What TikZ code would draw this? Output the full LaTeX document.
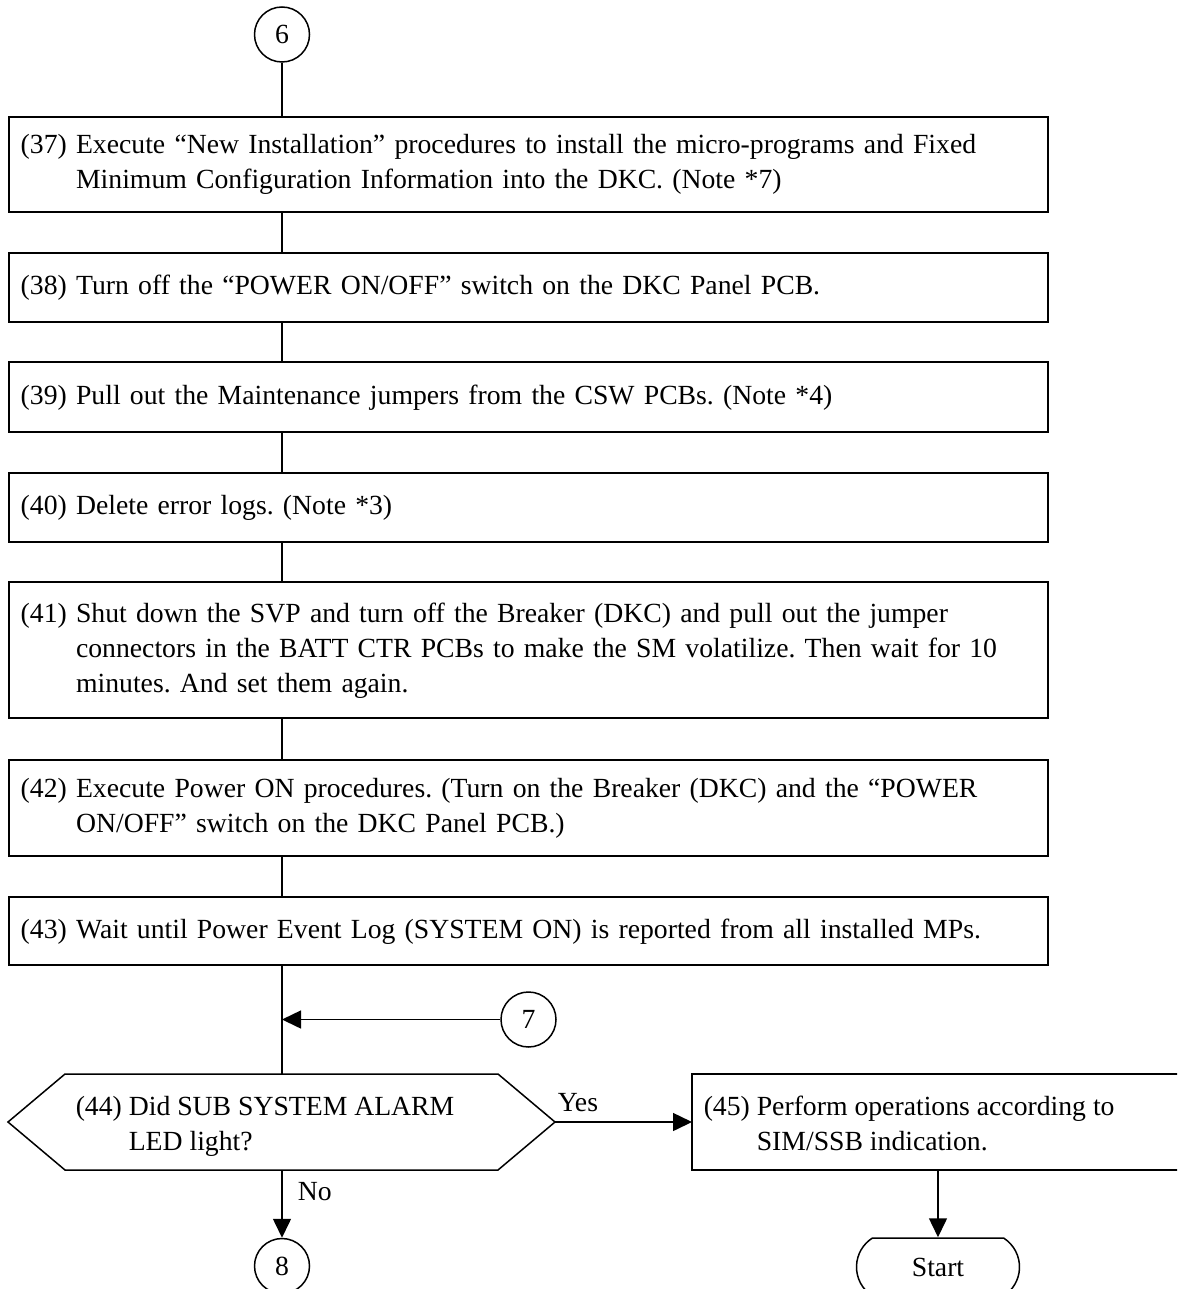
\documentclass[tikz,border=0pt]{standalone}
\usepackage{fontspec}
\setmainfont{Liberation Serif}
\usetikzlibrary{arrows.meta,shapes.misc}
\newcommand\steptext[2]{\begin{tabular}{@{}l@{\ }l@{}}#1&#2\end{tabular}}
\begin{document}
\frenchspacing
\begin{tikzpicture}[x=1pt,y=-1pt,
  font=\fontsize{27.7}{35}\selectfont,
  line width=1.5pt,
  stepbox/.style={draw, rectangle, text width=1015.6pt, align=left,
    inner xsep=11.7pt, inner ysep=0pt},
  conn/.style={draw, circle, minimum size=55pt, inner sep=0pt},
  arr/.style={-{Triangle[length=19pt,width=18pt]}},
  lbl/.style={inner sep=0pt, anchor=base west}]
\useasboundingbox (0,0) rectangle (1177,1289);
\clip (0,0) rectangle (1177,1289);

% connectors (circles)
\node[conn] (c6) at (282,34.5) {6};
\node[conn] (c7) at (528.5,1019.5) {7};
\node[conn] (c8) at (282,1266) {8};

% process boxes
\node[stepbox, minimum height=95pt] (b37) at (528.5,164.5)
  {\steptext{(37)}{Execute “New Installation” procedures to install the micro-programs and Fixed\\&Minimum Configuration Information into the DKC. (Note *7)}};
\node[stepbox, minimum height=69pt] (b38) at (528.5,287.5)
  {\steptext{(38)}{Turn off the “POWER ON/OFF” switch on the DKC Panel PCB.}};
\node[stepbox, minimum height=70pt] (b39) at (528.5,397)
  {\steptext{(39)}{Pull out the Maintenance jumpers from the CSW PCBs. (Note *4)}};
\node[stepbox, minimum height=69pt] (b40) at (528.5,507.5)
  {\steptext{(40)}{Delete error logs. (Note *3)}};
\node[stepbox, minimum height=136pt] (b41) at (528.5,650)
  {\steptext{(41)}{Shut down the SVP and turn off the Breaker (DKC) and pull out the jumper\\&connectors in the BATT CTR PCBs to make the SM volatilize. Then wait for 10\\&minutes. And set them again.}};
\node[stepbox, minimum height=96pt] (b42) at (528.5,808)
  {\steptext{(42)}{Execute Power ON procedures. (Turn on the Breaker (DKC) and the “POWER\\&ON/OFF” switch on the DKC Panel PCB.)}};
\node[stepbox, minimum height=68pt] (b43) at (528.5,931)
  {\steptext{(43)}{Wait until Power Event Log (SYSTEM ON) is reported from all installed MPs.}};

% decision (hexagon)
\coordinate (hexW) at (8,1122);
\coordinate (hexNW) at (65,1074);
\coordinate (hexNE) at (498,1074);
\coordinate (hexE) at (555,1122);
\coordinate (hexSE) at (498,1170);
\coordinate (hexSW) at (65,1170);
\coordinate (hexN) at (282,1074);
\coordinate (hexS) at (282,1170);
\draw (hexW) -- (hexNW) -- (hexNE) -- (hexE) -- (hexSE) -- (hexSW) -- cycle;
\node[inner sep=0pt, anchor=west] (t44) at (75,1126)
  {\steptext{(44)}{Did SUB SYSTEM ALARM\\&LED light?}};

% box 45
\node[draw, rectangle, minimum width=520pt, minimum height=96pt, inner sep=0pt,
  outer sep=0pt, anchor=north west] (b45) at (692,1074) {};
\node[inner sep=0pt, anchor=west] (t45) at (703,1126)
  {\steptext{(45)}{Perform operations according to\\&SIM/SSB indication.}};

% terminal
\node[draw, rounded rectangle, rounded rectangle arc length=115,
  minimum width=163pt, minimum height=58pt, inner sep=0pt] (start) at (938,1267) {Start};

% flow lines
\draw (c6) -- (c6 |- b37.north);
\draw (b37.south -| c6) -- (b38.north -| c6);
\draw (b38.south -| c6) -- (b39.north -| c6);
\draw (b39.south -| c6) -- (b40.north -| c6);
\draw (b40.south -| c6) -- (b41.north -| c6);
\draw (b41.south -| c6) -- (b42.north -| c6);
\draw (b42.south -| c6) -- (b43.north -| c6);
\draw (b43.south -| c6) -- (hexN);
\draw[arr] (c7) -- (c7 -| c6);
\draw[arr] (hexE) -- (hexE -| b45.west);
\draw[arr] (hexS) -- (c8);
\draw[arr] (start.north |- b45.south) -- (start.north);

% labels
\node[lbl] (yes) at (557,1111) {Yes};
\node[lbl] (no) at (297,1200) {No};
\end{tikzpicture}
\end{document}
